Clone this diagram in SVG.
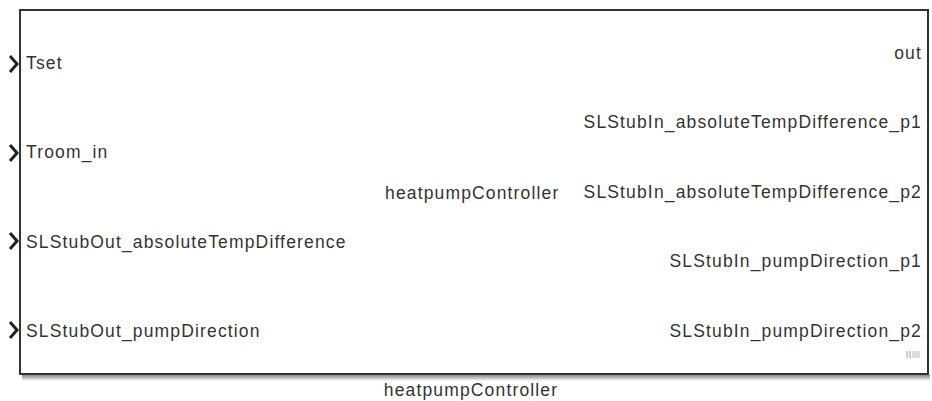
<svg xmlns="http://www.w3.org/2000/svg" width="932" height="401" viewBox="0 0 932 401">
<style>
text{font-family:"Liberation Sans",Arial,sans-serif;font-size:17.5px;letter-spacing:1.15px;fill:#333}
.r{text-anchor:end}
.port{fill:none;stroke:#222;stroke-width:3}
</style>
<defs>
<linearGradient id="sh" x1="0" y1="0" x2="0" y2="1"><stop offset="0" stop-color="#888"/><stop offset="1" stop-color="#fff"/></linearGradient>
</defs>
<rect width="932" height="401" fill="#fff"/>
<g id="heatpumpController">
<rect x="22" y="375" width="908" height="6" fill="url(#sh)"/>
<rect x="20" y="10" width="908" height="364" fill="#fff" stroke="#333" stroke-width="2"/>
<text x="385" y="199">heatpumpController</text>
<text x="471" y="396" text-anchor="middle">heatpumpController</text>
<text x="26" y="69">Tset</text>
<text x="26" y="158">Troom_in</text>
<text x="26" y="248">SLStubOut_absoluteTempDifference</text>
<text x="26" y="337">SLStubOut_pumpDirection</text>
<text class="r" x="922" y="59">out</text>
<text class="r" x="922" y="128">SLStubIn_absoluteTempDifference_p1</text>
<text class="r" x="922" y="198">SLStubIn_absoluteTempDifference_p2</text>
<text class="r" x="922" y="267">SLStubIn_pumpDirection_p1</text>
<text class="r" x="922" y="337">SLStubIn_pumpDirection_p2</text>
<g fill="#ccc"><rect x="906" y="351" width="2" height="7"/><rect x="909" y="351" width="2" height="7"/><rect x="912" y="351" width="8" height="7" fill="#ddd"/></g>
</g>
<g id="connectors">
<path class="port" d="M10 56 L17 64 L10 72"/>
<path class="port" d="M10 145 L17 153 L10 161"/>
<path class="port" d="M10 233 L17 241 L10 249"/>
<path class="port" d="M10 322 L17 330 L10 338"/>
</g>
</svg>
